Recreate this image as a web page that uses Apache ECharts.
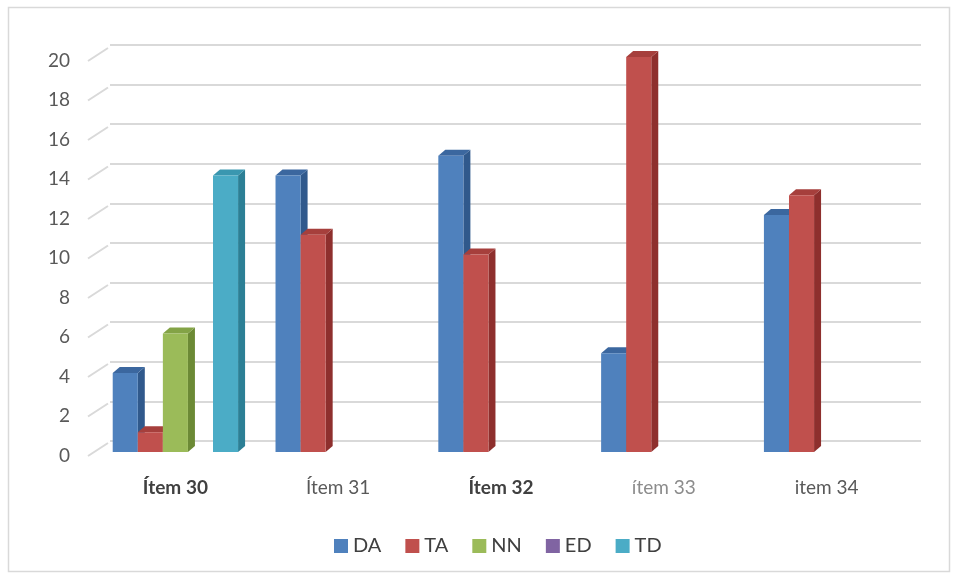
<!DOCTYPE html>
<html>
<head>
<meta charset="utf-8">
<script src="https://cdn.jsdelivr.net/npm/echarts@6/dist/echarts.min.js"></script>
<style>
  html, body { margin: 0; padding: 0; background: #fff; }
  #chart { width: 958px; height: 578px; }
</style>
</head>
<body>
<div id="chart"></div>
<script>
const categories = ['Ítem 30', 'Ítem 31', 'Ítem 32', 'ítem 33', 'item 34']
const seriesNames = ['DA', 'TA', 'NN', 'ED', 'TD']
const DA = [4, 14, 15, 5, 12]
const TA = [1, 11, 10, 20, 13]
const NN = [6, 0, 0, 0, 0]
const ED = [0, 0, 0, 0, 0]
const TD = [14, 0, 0, 0, 0]
const yTicks = [0, 2, 4, 6, 8, 10, 12, 14, 16, 18, 20]

const values = [DA, TA, NN, ED, TD]
// front, side, top shades per series
const palette = [
  ['#4f81bd', '#30598c', '#3b679f'],
  ['#c0504d', '#8e2f2d', '#a63f3c'],
  ['#9bbb59', '#6c8a35', '#83a346'],
  ['#8064a2', '#5a4379', '#6b528b'],
  ['#4bacc6', '#2c7f95', '#3a97b0'],
]
const labelStyles = ['b', 'n', 'b', 'l', 'n']
const DX = 7, DY = 6, GROUP = 0.77

const chart = echarts.init(document.getElementById('chart'))

function bar3d(si) {
  return (params, api) => {
    const v = api.value(1)
    if (!v) return null
    const base = api.coord([api.value(0), 0])
    const top = api.coord([api.value(0), v])
    const band = api.size([1, 0])[0]
    const gw = band * GROUP
    const bw = gw / seriesNames.length
    const x0 = base[0] - gw / 2 + si * bw
    const x1 = x0 + bw
    const [front, side, topc] = palette[si]
    return {
      type: 'group',
      children: [
        { type: 'polygon', shape: { points: [[x1, top[1]], [x1 + DX, top[1] - DY], [x1 + DX, base[1] - DY], [x1, base[1]]] }, style: { fill: side } },
        { type: 'polygon', shape: { points: [[x0, top[1]], [x0 + DX, top[1] - DY], [x1 + DX, top[1] - DY], [x1, top[1]]] }, style: { fill: topc } },
        { type: 'rect', shape: { x: x0, y: top[1], width: bw, height: base[1] - top[1] }, style: { fill: front } },
      ],
    }
  }
}

const barSeries = seriesNames.map((name, si) => ({
  name,
  type: 'custom',
  xAxisIndex: 0,
  yAxisIndex: 0,
  itemStyle: { color: palette[si][0] },
  renderItem: bar3d(si),
  encode: { x: 0, y: 1 },
  data: values[si].map((v, i) => [i, v]),
  z: 5,
}))

chart.setOption({
  backgroundColor: '#fff',
  animation: false,
  textStyle: { fontFamily: 'Lato, "Open Sans", sans-serif' },
  graphic: [{
    type: 'rect',
    shape: { x: 8.5, y: 7.5, width: 941, height: 564 },
    style: { fill: 'none', stroke: '#d9d9d9', lineWidth: 1.5 },
    silent: true,
  }],
  grid: [
    { left: 94, right: 50, top: 57, bottom: 126 },
    { left: 110, right: 37, top: 45, bottom: 137 },
  ],
  xAxis: [
    {
      type: 'category',
      gridIndex: 0,
      data: categories,
      axisLine: { show: false },
      axisTick: { show: false },
      axisLabel: {
        margin: 26,
        formatter: (v, i) => `{${labelStyles[i]}|${v}}`,
        rich: {
          b: { fontSize: 19, fontWeight: 'bold', color: '#404040', fontFamily: 'Lato' },
          n: { fontSize: 19, color: '#595959', fontFamily: 'Lato' },
          l: { fontSize: 19, color: '#8c8c8c', fontFamily: 'Lato' },
        },
      },
    },
    { type: 'category', gridIndex: 1, data: categories, show: false },
  ],
  yAxis: [
    {
      type: 'value',
      gridIndex: 0,
      min: 0, max: 20, interval: 2,
      axisLine: { show: false },
      axisTick: { show: false },
      splitLine: { show: false },
      axisLabel: {
        margin: 24,
        formatter: '{a|{value}}',
        rich: { a: { fontSize: 19, color: '#595959', fontFamily: 'Lato', padding: [7, 0, 0, 0] } },
      },
    },
    {
      type: 'value',
      gridIndex: 1,
      min: 0, max: 20, interval: 2,
      axisLine: { show: false },
      axisTick: { show: false },
      axisLabel: { show: false },
      splitLine: { lineStyle: { color: '#d9d9d9', width: 2 } },
    },
  ],
  legend: {
    bottom: 17,
    left: 329,
    icon: 'rect',
    itemWidth: 14,
    itemHeight: 14,
    itemGap: 24,
    textStyle: { fontSize: 20, color: '#404040', fontFamily: 'Lato' },
    data: seriesNames,
  },
  series: [
    {
      type: 'custom',
      xAxisIndex: 0,
      yAxisIndex: 0,
      silent: true,
      z: 1,
      renderItem: (params, api) => {
        const p = api.coord([0, api.value(0)])
        const x = params.coordSys.x
        return {
          type: 'line',
          shape: { x1: x - 6, y1: p[1] + 4, x2: x + 14, y2: p[1] - 9 },
          style: { stroke: '#d9d9d9', lineWidth: 2 },
        }
      },
      encode: { y: 0 },
      data: yTicks.map(v => [v]),
    },
    ...barSeries,
  ],
})
</script>
</body>
</html>
